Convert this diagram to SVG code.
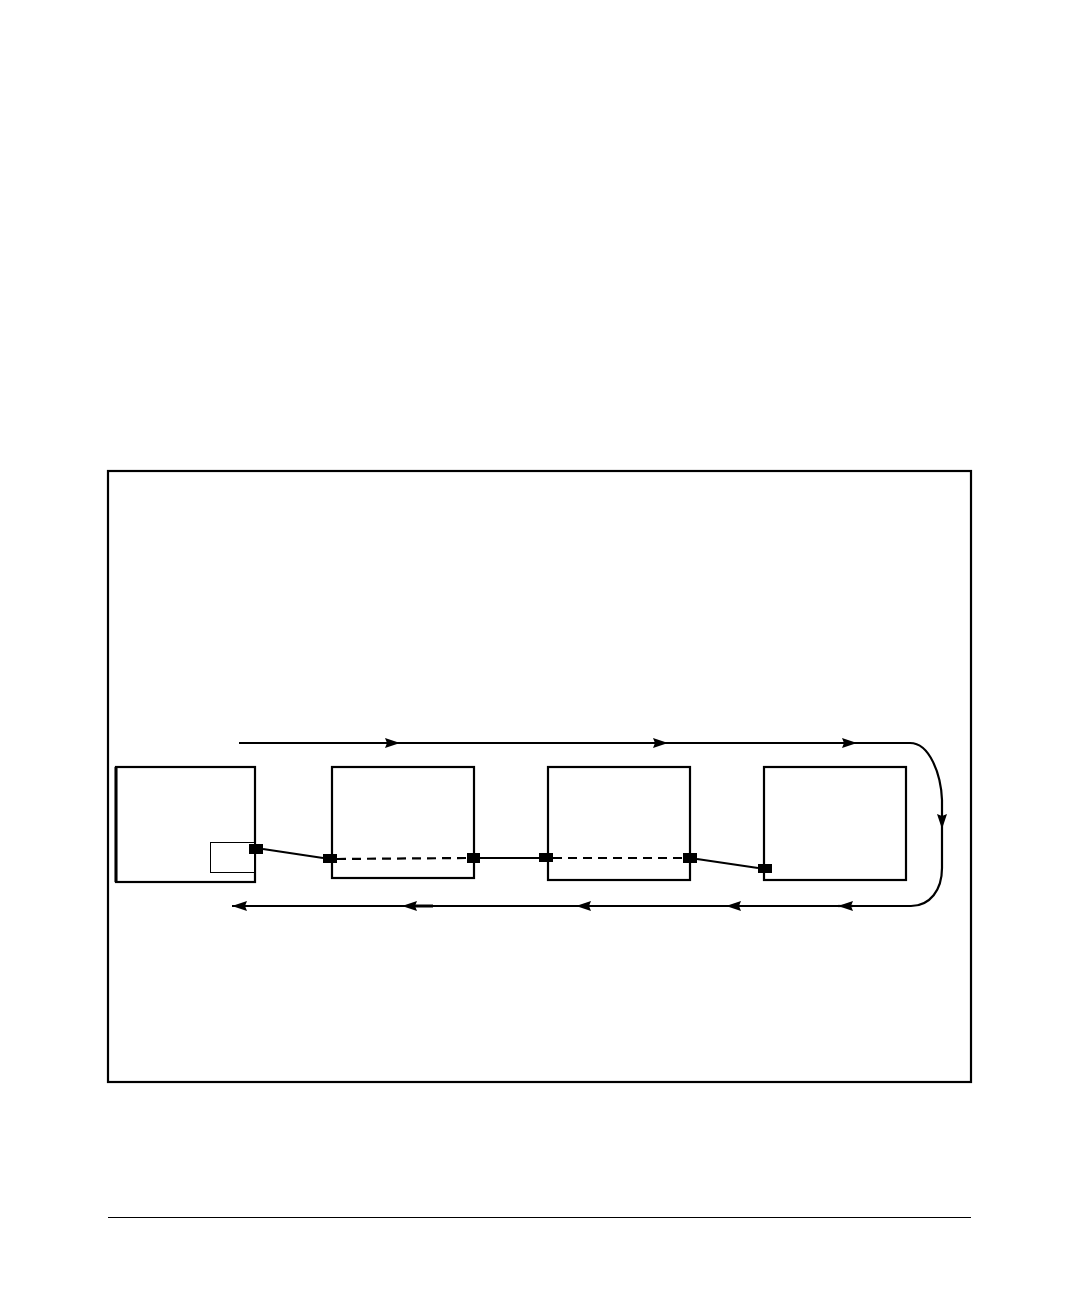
<svg xmlns="http://www.w3.org/2000/svg" width="1080" height="1296" viewBox="0 0 1080 1296">
<style>
.box{fill:#fff;stroke:#000;stroke-width:2.2}
.ln{fill:none;stroke:#000;stroke-width:2.2}
.dash{fill:none;stroke:#000;stroke-width:2.2;stroke-dasharray:9,6}
.port{fill:#000}
</style>
<defs>
<marker id="ah" markerWidth="15" markerHeight="10" refX="15" refY="5" orient="auto" markerUnits="userSpaceOnUse">
<path d="M0,0 L15,5 L0,10 L2,5 Z" fill="#000"/>
</marker>
</defs>
<rect width="1080" height="1296" fill="#fff"/>
<rect x="108" y="471" width="863" height="611" fill="none" stroke="#000" stroke-width="2.2"/>
<line x1="108" y1="1217.5" x2="971" y2="1217.5" stroke="#000" stroke-width="1.2"/>
<g id="node1">
<rect class="box" x="116" y="767" width="139" height="115"/>
<line x1="116" y1="767" x2="116" y2="882" stroke="#000" stroke-width="3"/>
<rect x="210.5" y="842.5" width="44" height="30" fill="#fff" stroke="#000" stroke-width="1"/>
</g>
<g id="node2"><rect class="box" x="332" y="767" width="142" height="111"/></g>
<g id="node3"><rect class="box" x="548" y="767" width="142" height="113"/></g>
<g id="node4"><rect class="box" x="764" y="767" width="142" height="113"/></g>
<g id="connectors">
<line class="ln" x1="239" y1="743" x2="400" y2="743" marker-end="url(#ah)"/>
<line class="ln" x1="400" y1="743" x2="668" y2="743" marker-end="url(#ah)"/>
<line class="ln" x1="668" y1="743" x2="857" y2="743" marker-end="url(#ah)"/>
<path class="ln" d="M857,743 L910,743 C930,743 941,775 942,800 L942,829" marker-end="url(#ah)"/>
<path class="ln" d="M942,829 L942,868 C942,890 930,906 911,906 L853,906"/>
<line class="ln" x1="853" y1="906" x2="838" y2="906" marker-end="url(#ah)"/>
<line class="ln" x1="838" y1="906" x2="726" y2="906" marker-end="url(#ah)"/>
<line class="ln" x1="726" y1="906" x2="576" y2="906" marker-end="url(#ah)"/>
<line class="ln" x1="576" y1="906" x2="402" y2="906" marker-end="url(#ah)"/>
<line x1="415" y1="906" x2="433" y2="906" stroke="#000" stroke-width="3"/>
<line class="ln" x1="402" y1="906" x2="232" y2="906" marker-end="url(#ah)"/>
<line class="ln" x1="263" y1="849" x2="323" y2="858"/>
<line class="dash" x1="337" y1="859" x2="467" y2="858"/>
<line class="ln" x1="480" y1="858" x2="539" y2="858"/>
<line class="dash" x1="553" y1="858" x2="683" y2="858"/>
<line class="ln" x1="697" y1="859" x2="758" y2="868"/>
<rect class="port" x="249" y="844" width="14" height="10"/>
<rect class="port" x="323" y="854" width="14" height="9"/>
<rect class="port" x="467" y="853" width="13" height="10"/>
<rect class="port" x="539" y="853" width="14" height="9"/>
<rect class="port" x="683" y="853" width="14" height="10"/>
<rect class="port" x="758" y="864" width="14" height="9"/>
</g>
</svg>
